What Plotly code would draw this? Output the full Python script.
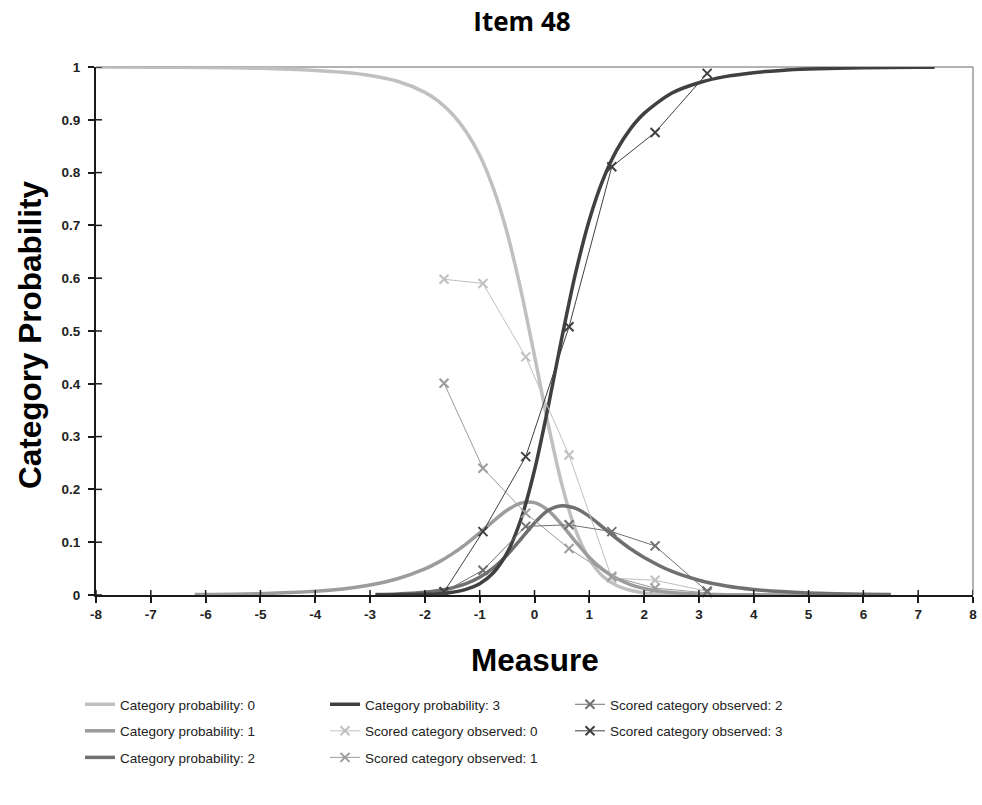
import plotly.graph_objects as go

# ---- Category probability curves (measure, probability) ----
measure_cat0 = [-8, -7, -6, -5, -4, -3.5, -3, -2.5, -2, -1.75, -1.5, -1.25, -1, -0.75,
                -0.5, -0.25, 0, 0.25, 0.5, 0.75, 1, 1.25, 1.5, 1.75, 2, 2.5, 3, 3.3]
prob_cat0 = [1.0, 0.9996, 0.999, 0.9974, 0.9935, 0.990, 0.984, 0.973, 0.952, 0.935, 0.911,
             0.878, 0.833, 0.770, 0.686, 0.578, 0.453, 0.323, 0.209, 0.123, 0.068, 0.035,
             0.018, 0.009, 0.004, 0.001, 0.0002, 0.0001]

measure_cat1 = [-6.2, -5, -4, -3.5, -3, -2.5, -2, -1.75, -1.5, -1.25, -1, -0.75, -0.5, -0.25,
                0, 0.25, 0.5, 0.75, 1, 1.25, 1.5, 1.75, 2, 2.5, 3, 3.5, 4, 5, 6.5]
prob_cat1 = [0.0008, 0.0026, 0.007, 0.0115, 0.0189, 0.0307, 0.0494, 0.0623, 0.0779, 0.0965,
             0.1177, 0.140, 0.1605, 0.1741, 0.175, 0.1603, 0.1329, 0.1008, 0.0712, 0.0478,
             0.0311, 0.0198, 0.0124, 0.0047, 0.0018, 0.0007, 0.0003, 0.0001, 0.0]

measure_cat2 = [-2.9, -2.5, -2, -1.75, -1.5, -1.25, -1, -0.75, -0.5, -0.25, 0, 0.25, 0.5, 0.75,
                1, 1.25, 1.5, 1.75, 2, 2.5, 3, 3.5, 4, 4.5, 5, 6, 6.5]
prob_cat2 = [0.0009, 0.002, 0.0052, 0.0084, 0.0135, 0.0215, 0.0337, 0.0515, 0.0758, 0.1056,
             0.1363, 0.1603, 0.1690, 0.1640, 0.1490, 0.128, 0.1070, 0.0875, 0.0712, 0.045,
             0.0279, 0.0171, 0.0105, 0.0064, 0.0039, 0.0014, 0.0009]

measure_cat3 = [-2.9, -2.5, -2, -1.75, -1.5, -1.25, -1, -0.75, -0.5, -0.25, 0, 0.25, 0.5, 0.75,
                1, 1.25, 1.5, 1.75, 2, 2.5, 3, 3.5, 4, 4.5, 5, 6, 7, 7.3]
prob_cat3 = [0.0001, 0.0003, 0.0012, 0.0025, 0.0052, 0.0107, 0.0215, 0.0422, 0.0797, 0.1425,
             0.2362, 0.3567, 0.4878, 0.6099, 0.7103, 0.7867, 0.8425, 0.8829, 0.9121, 0.9503,
             0.9702, 0.9822, 0.9893, 0.9936, 0.9961, 0.9986, 0.9995, 0.9996]

# ---- Observed (scored) category proportions per measure group ----
obs_measure = [-1.65, -0.94, -0.16, 0.63, 1.41, 2.20, 3.15]
obs_cat0 = [0.598, 0.590, 0.451, 0.265, 0.032, 0.028, 0.007]
obs_cat1 = [0.401, 0.240, 0.155, 0.088, 0.035, 0.013, 0.004]
obs_cat2 = [0.006, 0.047, 0.130, 0.133, 0.120, 0.093, 0.007]
obs_cat3 = [0.006, 0.120, 0.262, 0.508, 0.811, 0.876, 0.988]

x_ticks = list(range(-8, 9))
x_tick_text = [str(v) for v in x_ticks]
y_ticks = [0, 0.1, 0.2, 0.3, 0.4, 0.5, 0.6, 0.7, 0.8, 0.9, 1]
y_tick_text = ["0", "0.1", "0.2", "0.3", "0.4", "0.5", "0.6", "0.7", "0.8", "0.9", "1"]

greys = ["#c0c0c0", "#9c9c9c", "#707070", "#404040"]

W, H = 982, 805
ML, MR, MT, MB = 96, 9, 67, 210
AXIS_COLOR = "#1a1a1a"

fig = go.Figure()

curves = [(measure_cat0, prob_cat0), (measure_cat1, prob_cat1),
          (measure_cat2, prob_cat2), (measure_cat3, prob_cat3)]
curve_legends = ["legend", "legend", "legend", "legend2"]
for k, (mx, py) in enumerate(curves):
    fig.add_trace(go.Scatter(
        x=mx, y=py, mode="lines",
        line=dict(color=greys[k], width=3.5, shape="spline", smoothing=0.8),
        name=f"Category probability: {k}",
        legend=curve_legends[k], legendgroup=f"c{k}",
    ))

observed = [obs_cat0, obs_cat1, obs_cat2, obs_cat3]
obs_legends = ["legend2", "legend2", "legend3", "legend3"]
for k, oy in enumerate(observed):
    fig.add_trace(go.Scatter(
        x=obs_measure, y=oy, mode="lines+markers",
        line=dict(color=greys[k], width=1),
        marker=dict(symbol="x-thin", size=9, line=dict(color=greys[k], width=2)),
        name=f"Scored category observed: {k}",
        legend=obs_legends[k], legendgroup=f"o{k}",
        cliponaxis=False,
    ))

tick_font = dict(family="Liberation Sans, Arial", size=13.5, color="#222222", weight="bold")
axis_title_font = dict(family="Liberation Sans, Arial", size=31.5, color="#000000", weight="bold")

# frame (top/right) plus the inner half of every tick mark
shapes = [
    dict(type="line", xref="paper", yref="paper", x0=0, x1=1, y0=1, y1=1,
         line=dict(color="#666666", width=1), layer="below"),
    dict(type="line", xref="paper", yref="paper", x0=1, x1=1, y0=0, y1=1,
         line=dict(color="#666666", width=1), layer="below"),
]
for t in x_ticks:
    shapes.append(dict(type="line", xref="x", yref="paper", x0=t, x1=t,
                       ysizemode="pixel", yanchor=0, y0=0, y1=5,
                       line=dict(color=AXIS_COLOR, width=1.5), layer="above"))
for t in y_ticks:
    shapes.append(dict(type="line", xref="paper", yref="y", y0=t, y1=t,
                       xsizemode="pixel", xanchor=0, x0=0, x1=6,
                       line=dict(color=AXIS_COLOR, width=1.5), layer="above"))

fig.update_layout(
    width=W, height=H,
    margin=dict(l=ML, r=MR, t=MT, b=MB, autoexpand=False),
    paper_bgcolor="white", plot_bgcolor="white",
    title=dict(text="Item 48", x=522 / W, xanchor="center", y=1 - 22 / H, yanchor="middle",
               xref="container", yref="container",
               font=dict(family="Open Sans", size=26, color="#000000", weight="bold")),
    xaxis=dict(range=[-8, 8], tickvals=x_ticks, ticktext=x_tick_text, ticks="outside",
               ticklen=6, tickwidth=1.5, tickcolor=AXIS_COLOR, showline=True,
               linecolor=AXIS_COLOR, linewidth=2, showgrid=False, zeroline=False,
               tickfont=tick_font, automargin=False),
    yaxis=dict(range=[0, 1], tickvals=y_ticks, ticktext=y_tick_text, ticks="outside",
               ticklen=6, tickwidth=1.5, tickcolor=AXIS_COLOR, showline=True,
               linecolor=AXIS_COLOR, linewidth=2, showgrid=False, zeroline=False,
               tickfont=tick_font, ticklabelstandoff=5, automargin=False),
    shapes=shapes,
    annotations=[
        dict(text="Measure", xref="paper", yref="paper", x=0.5, y=0, xanchor="center",
             yanchor="middle", yshift=-65, showarrow=False, font=axis_title_font),
        dict(text="Category Probability", xref="paper", yref="paper", x=0, y=0.5,
             xanchor="center", yanchor="middle", xshift=-66, yshift=-4, textangle=-90,
             showarrow=False, font=axis_title_font),
    ],
    showlegend=True,
)

legend_common = dict(orientation="v", xref="container", yref="container", yanchor="top",
                     xanchor="left", bgcolor="rgba(0,0,0,0)", borderwidth=0,
                     traceorder="grouped", tracegroupgap=6, itemwidth=30,
                     font=dict(family="Liberation Sans, Arial", size=13.5, color="#222222"))
legend_top = 1 - 689 / H
fig.update_layout(
    legend=dict(x=80 / W, y=legend_top, **legend_common),
    legend2=dict(x=325 / W, y=legend_top, **legend_common),
    legend3=dict(x=570 / W, y=legend_top, **legend_common),
)

fig.write_html("out.html")
